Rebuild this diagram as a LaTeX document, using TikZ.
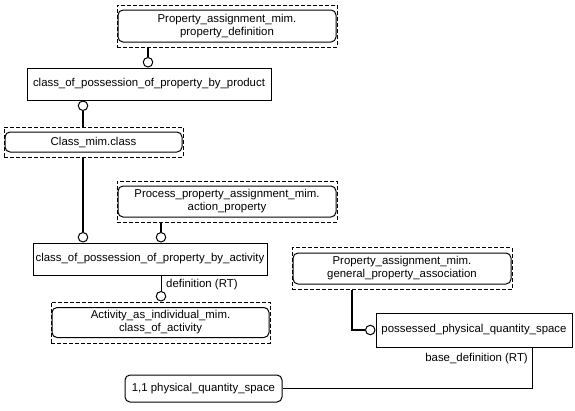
\documentclass[tikz,border=0pt]{standalone}
\usepackage{fontspec}
\setmainfont{Liberation Sans}
\begin{document}
\begin{tikzpicture}[x=1pt,y=-1pt,
    every node/.style={font=\fontsize{11.4}{13}\selectfont,align=center,inner sep=0pt},
    entity/.style={draw,line width=1pt},
    mimref/.style={draw,line width=1pt,rounded corners=5pt},
    frame/.style={draw,line width=1pt,dash pattern=on 4pt off 2pt},
    thickline/.style={line width=2.2pt},
    thinline/.style={line width=1pt},
    ring/.style={draw,fill=white,circle,line width=1pt,minimum size=9.5pt}]
    \useasboundingbox (0,0) rectangle (575,410);
    % mim references
    \node[frame,minimum width=220pt,minimum height=42pt] (pdo) at (227,26) {};
    \node[mimref,minimum width=218pt,minimum height=32pt] (pd) at (227,26) {Property\_assignment\_mim.\\property\_definition};
    \node[frame,minimum width=179pt,minimum height=30pt] (clso) at (93.5,142) {};
    \node[mimref,minimum width=177pt,minimum height=20pt] (cls) at (93.5,142) {Class\_mim.class};
    \node[frame,minimum width=220pt,minimum height=41pt] (ppo) at (227,201.5) {};
    \node[mimref,minimum width=218pt,minimum height=31pt] (pp) at (227,201.5) {Process\_property\_assignment\_mim.\\action\_property};
    \node[frame,minimum width=219pt,minimum height=41pt] (aio) at (160.5,322.5) {};
    \node[mimref,minimum width=217pt,minimum height=30pt] (ai) at (160.5,322.5) {Activity\_as\_individual\_mim.\\class\_of\_activity};
    \node[frame,minimum width=220pt,minimum height=42pt] (gpo) at (402,268.5) {};
    \node[mimref,minimum width=218pt,minimum height=31pt] (gp) at (402,268.5) {Property\_assignment\_mim.\\general\_property\_association};
    % entities
    \node[entity,minimum width=244pt,minimum height=32pt] (prod) at (149,84) {class\_of\_possession\_of\_property\_by\_product};
    \node[entity,minimum width=234pt,minimum height=32pt] (act) at (150,259) {class\_of\_possession\_of\_property\_by\_activity};
    \node[entity,minimum width=196pt,minimum height=34pt] (poss) at (474,330) {possessed\_physical\_quantity\_space};
    \node[mimref,minimum width=157pt,minimum height=27pt] (q11) at (203.5,388.5) {1,1 physical\_quantity\_space};
    % rings
    \node[ring,anchor=south] (r1) at (148,0 |- prod.north) {};
    \node[ring,anchor=north] (r2) at (83,0 |- prod.south) {};
    \node[ring,anchor=south] (r3) at (83,0 |- act.north) {};
    \node[ring,anchor=south] (r4) at (161,0 |- act.north) {};
    \node[ring,anchor=south] (r5) at (161,0 |- aio.north) {};
    \node[ring,anchor=east] (r6) at (poss.west) {};
    % connectors
    \draw[thickline] (148,0 |- pdo.south) -- (r1);
    \draw[thickline] (r2) -- (83,0 |- clso.north);
    \draw[thickline] (83,0 |- clso.south) -- (r3);
    \draw[thickline] (161,0 |- ppo.south) -- (r4);
    \draw[thinline] (161,0 |- act.south) -- (r5);
    \draw[thickline] (352,0 |- gpo.south) |- (r6);
    \draw[thinline] (532,0 |- poss.south) |- (q11.east);
    % labels
    \node[anchor=west] (defl) at (166,285) {definition (RT)};
    \node[anchor=east] (basel) at (528,359) {base\_definition (RT)};
\end{tikzpicture}
\end{document}
